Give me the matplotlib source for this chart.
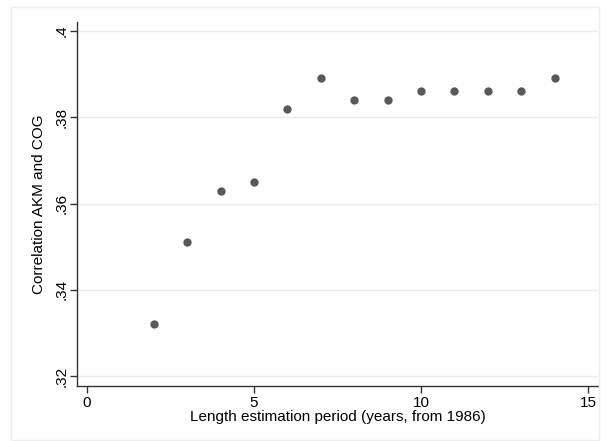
import matplotlib
matplotlib.use("Agg")
import matplotlib.pyplot as plt
from matplotlib.patches import Rectangle

plt.rcParams['font.family'] = ['Liberation Sans', 'DejaVu Sans']

years = [2, 3, 4, 5, 6, 7, 8, 9, 10, 11, 12, 13, 14]
corr = [0.332, 0.351, 0.363, 0.365, 0.382, 0.389, 0.384, 0.384,
        0.386, 0.386, 0.386, 0.386, 0.389]
x_ticks = [0, 5, 10, 15]
y_ticks = [0.32, 0.34, 0.36, 0.38, 0.40]
y_tick_labels = [".32", ".34", ".36", ".38", ".4"]

W, H = 601, 441
fig = plt.figure(figsize=(W / 100, H / 100), dpi=100)
fig.patch.set_facecolor("white")

# faint outer frame
fig.add_artist(Rectangle((11 / W, 1 - 440 / H), (599 - 11) / W, (440 - 7) / H,
                         transform=fig.transFigure, fill=False,
                         edgecolor="#eeeeee", linewidth=1.0))

left, right, top, bottom = 77, 598, 22, 386
ax = fig.add_axes([left / W, 1 - bottom / H, (right - left) / W, (bottom - top) / H])

ax.scatter(years, corr, s=36, color="#595959", zorder=3, linewidths=0)

ax.set_xlim(-0.30, 15.30)
ax.set_ylim(0.3177, 0.4021)
ax.set_xticks(x_ticks)
ax.set_yticks(y_ticks)
ax.set_yticklabels(y_tick_labels, rotation=90, va="center")
ax.grid(axis="y", color="#eaeaea", linewidth=1.0)
ax.set_axisbelow(True)

for s in ("top", "right"):
    ax.spines[s].set_visible(False)
for s in ("left", "bottom"):
    ax.spines[s].set_color("#333333")
    ax.spines[s].set_linewidth(1.0)

ax.tick_params(axis="both", direction="out", length=5, width=1.0,
               color="#333333", labelsize=11, labelcolor="black")
ax.tick_params(axis="x", pad=2)
ax.tick_params(axis="y", pad=1)

ax.set_xlabel("Length estimation period (years, from 1986)", fontsize=11, labelpad=0)
ax.set_ylabel("Correlation AKM and COG", fontsize=11, labelpad=6)

fig.savefig("out.png", dpi=100, facecolor="white")
